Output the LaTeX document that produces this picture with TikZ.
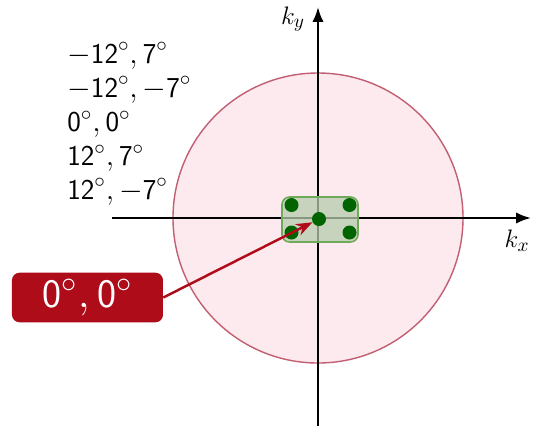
\documentclass[tikz,border=0pt]{standalone}
\usepackage{fontspec}
\usepackage{tikz}
\usetikzlibrary{arrows.meta, positioning, calc}
\definecolor{darkred}{RGB}{175, 12, 26}
\definecolor{circlefill}{RGB}{252, 234, 238}
\definecolor{circleline}{RGB}{195, 95, 115}
\definecolor{darkgreen}{RGB}{0, 100, 0}
\definecolor{boxgreen}{RGB}{110, 170, 90}
\definecolor{boxfill}{RGB}{182, 204, 172}
\newcommand{\dg}[1]{\mathsf{#1}^\circ}

\begin{document}
\begin{tikzpicture}[
		axis/.style={-Latex, black, line width=1.2pt},
		dot/.style={circle, fill=darkgreen, inner sep=0pt, minimum size=0.28cm},
		angle/.style={anchor=base west, inner sep=0pt, font=\fontsize{16.4}{19}\selectfont\sffamily},
		tag/.style={fill=darkred, rounded corners=1.5mm, minimum width=3.02cm, minimum height=0.94cm, text=white, font=\fontsize{23}{27}\selectfont\sffamily},
		arrow/.style={-Stealth, darkred, line width=1.4pt}
	]
	\useasboundingbox (-6.36,-4.2) rectangle (4.3,4.36);

	% Circle
	\draw[circleline, fill=circlefill, line width=0.8pt] (0,0) circle (2.9);

	% Axes
	\coordinate (xl) at (-4.12,0);
	\coordinate (xr) at (4.26,0);
	\coordinate (yb) at (0,-4.16);
	\coordinate (yt) at (0,4.22);
	\draw[axis] (xl) -- (xr);
	\draw[axis] (yb) -- (yt);
	\node[font=\fontsize{15}{17}\selectfont] (kx) at (3.98,-0.46) {$k_x$};
	\node[font=\fontsize{15}{17}\selectfont] (ky) at (-0.5,3.98) {$k_y$};

	% Pointing box
	\draw[boxgreen, line width=0.9pt, fill=boxfill, fill opacity=0.75, rounded corners=1.5mm] (-0.72,0.42) rectangle (0.8,-0.48);
	\node[dot] (c0) at (0.02,-0.02) {};
	\node[dot] (c1) at (-0.53,0.26) {};
	\node[dot] (c2) at (0.63,0.26) {};
	\node[dot] (c3) at (-0.53,-0.29) {};
	\node[dot] (c4) at (0.63,-0.29) {};

	% Labels
	\node[angle] (l1) at (-5.02,3.1) {$-\dg{12}, \dg{7}$};
	\node[angle] (l2) at (-5.02,2.42) {$-\dg{12}, -\dg{7}$};
	\node[angle] (l3) at (-5.02,1.73) {$\dg{0}, \dg{0}$};
	\node[angle] (l4) at (-5.02,1.05) {$\dg{12}, \dg{7}$};
	\node[angle] (l5) at (-5.02,0.38) {$\dg{12}, -\dg{7}$};

	\node[tag] (cur) at (-4.61,-1.59) {$\dg{0}, \dg{0}$};
	\draw[arrow] (cur.east) -- (c0);

\end{tikzpicture}
\end{document}
